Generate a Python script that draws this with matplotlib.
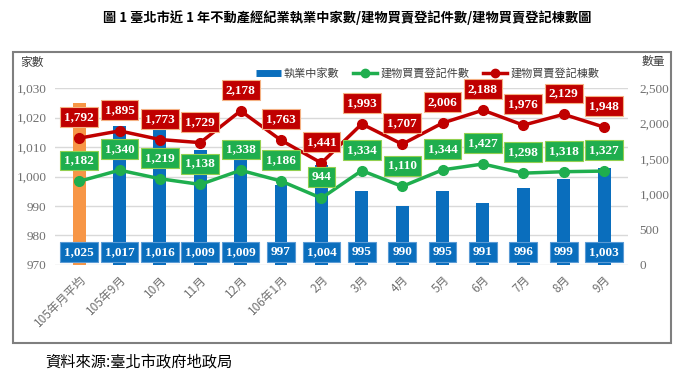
import numpy as np
import matplotlib.pyplot as plt
from matplotlib.patches import Rectangle
from matplotlib.lines import Line2D

categories = ['105年月平均', '105年9月', '10月', '11月', '12月', '106年1月', '2月',
              '3月', '4月', '5月', '6月', '7月', '8月', '9月']
firms = [1025, 1017, 1016, 1009, 1009, 997, 1004, 995, 990, 995, 991, 996, 999, 1003]
cases = [1182, 1340, 1219, 1138, 1338, 1186, 944, 1334, 1110, 1344, 1427, 1298, 1318, 1327]
buildings = [1792, 1895, 1773, 1729, 2178, 1763, 1441, 1993, 1707, 2006, 2188, 1976, 2129, 1948]

cjk = ['Noto Sans CJK TC', 'DejaVu Sans']
num_font = 'Liberation Serif'
blue = '#0a6ebd'
orange = '#f79646'
green = '#1fae4e'
red = '#c00000'
gray = '#707070'

fig = plt.figure(figsize=(6.95, 3.78), dpi=100)
ax = fig.add_axes([0.079, 0.299, 0.825, 0.468])
ax2 = ax.twinx()

x = np.arange(len(categories))
colors = [orange] + [blue] * (len(categories) - 1)
ax.bar(x, firms, width=0.32, color=colors, zorder=2)
ax.set_ylim(970, 1030)
ax.set_yticks(np.arange(970, 1031, 10))
ax.set_yticklabels(['{:,}'.format(v) for v in range(970, 1031, 10)],
                   fontname=num_font, fontsize=9.5, color=gray)
ax.grid(axis='y', color='#d9d9d9', linewidth=1, zorder=0)
ax.set_axisbelow(True)
ax.set_xlim(-0.6, len(categories) - 0.4)
ax.set_xticks(x)
ax.set_xticklabels(categories, rotation=45, ha='right', rotation_mode='anchor',
                   family=['Noto Sans CJK TC', 'Liberation Serif'], fontsize=8.5, color=gray)
ax.tick_params(length=0, pad=6)
for s in ax.spines.values():
    s.set_visible(False)
for s in ax2.spines.values():
    s.set_visible(False)

# bar value boxes at the bottom
for xi, v in zip(x, firms):
    ax.text(xi, 974.5, '{:,}'.format(v), ha='center', va='center', color='white',
            fontname=num_font, fontweight='bold', fontsize=9.5, zorder=5,
            bbox=dict(boxstyle='square,pad=0.3', fc=blue, ec='#5b9bd5', lw=0.8))

ax2.plot(x, cases, color=green, lw=2.5, marker='o', ms=7, zorder=3)
ax2.plot(x, buildings, color=red, lw=2.5, marker='o', ms=7, zorder=3)
ax2.set_ylim(0, 2500)
ax2.set_yticks(np.arange(0, 2501, 500))
ax2.set_yticklabels(['{:,}'.format(v) for v in range(0, 2501, 500)],
                    fontname=num_font, fontsize=9.5, color=gray)
ax2.tick_params(length=0, pad=8)

for xi, v in zip(x, cases):
    ax2.annotate('{:,}'.format(v), (xi, v), xytext=(0, 15), textcoords='offset points',
                 ha='center', va='center', color='white', fontname=num_font,
                 fontweight='bold', fontsize=9.5, zorder=6,
                 bbox=dict(boxstyle='square,pad=0.3', fc=green, ec='#92d050', lw=0.8))
for xi, v in zip(x, buildings):
    ax2.annotate('{:,}'.format(v), (xi, v), xytext=(0, 15), textcoords='offset points',
                 ha='center', va='center', color='white', fontname=num_font,
                 fontweight='bold', fontsize=9.5, zorder=6,
                 bbox=dict(boxstyle='square,pad=0.3', fc=red, ec='#f4b183', lw=0.8))

# outer frame
fig.patches.append(Rectangle((13 / 695, 1 - 343 / 378), 658 / 695, 291 / 378,
                             transform=fig.transFigure, fill=False, ec='#7f7f7f', lw=1.5))

fig.text(0.5, 1 - 18 / 378, '圖 1 臺北市近 1 年不動產經紀業執業中家數/建物買賣登記件數/建物買賣登記棟數圖',
         ha='center', va='center', fontsize=9.5, fontweight='bold', family=cjk)
fig.text(20 / 695, 1 - 62 / 378, '家數', ha='left', va='center', fontsize=8.5, family=cjk, color='#404040')
fig.text(665 / 695, 1 - 62 / 378, '數量', ha='right', va='center', fontsize=8.5, family=cjk, color='#404040')
fig.text(45 / 695, 1 - 362 / 378, '資料來源:臺北市政府地政局', ha='left', va='center', fontsize=11, family=cjk)

handles = [Line2D([], [], color=blue, lw=5, solid_capstyle='butt'),
           Line2D([], [], color=green, lw=2.5, marker='o', ms=6),
           Line2D([], [], color=red, lw=2.5, marker='o', ms=6)]
fig.legend(handles, ['執業中家數', '建物買賣登記件數', '建物買賣登記棟數'], loc='center',
           bbox_to_anchor=(428 / 695, 1 - 73 / 378), ncol=3, frameon=False,
           prop={'family': cjk, 'size': 8}, handlelength=2.2, columnspacing=1.2,
           handletextpad=0.3, labelcolor='#404040')

fig.savefig('out.png', dpi=100)
